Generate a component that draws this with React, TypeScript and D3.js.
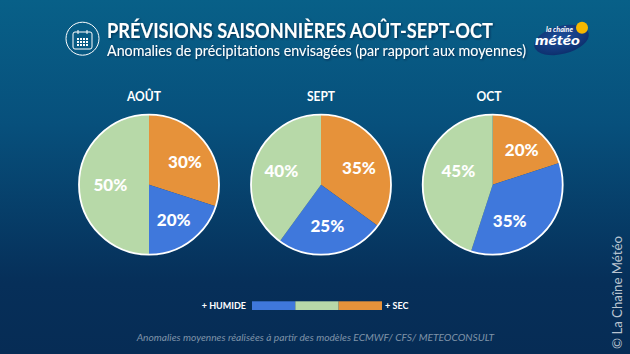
import React from "react";
import * as d3 from "d3";

const months = ["AOÛT", "SEPT", "OCT"];
const secValues = [30, 35, 20];
const humideValues = [20, 25, 35];
const neutreValues = [50, 40, 45];
const legendLabels = ["+ HUMIDE", "+ SEC"];
const colors = { sec: "#E6923A", humide: "#3F78DC", neutre: "#B7D9A8" };
const title = "PRÉVISIONS SAISONNIÈRES AOÛT-SEPT-OCT";
const subtitle = "Anomalies de précipitations envisagées (par rapport aux moyennes)";
const source = "Anomalies moyennes réalisées à partir des modèles ECMWF/ CFS/ METEOCONSULT";

const W = 630, H = 354;
const centerX = d3.scaleOrdinal<string, number>().domain(months).range([149, 321, 492.7]);
const titleX = d3.scaleOrdinal<string, number>().domain(months).range([144, 321, 489]);
const titleW = d3.scaleOrdinal<string, number>().domain(months).range([34, 28, 25]);
const cy = 184.7, R = 70;
const legendX = d3.scaleLinear().domain([0, 3]).range([252, 382]);
const font = "Lato, sans-serif";

// hand-placed label offsets from each pie centre, as in the reference
const labelOffsets: Record<string, [number, number]>[] = [
  { sec: [36, -22.4], humide: [24.7, 35.3], neutre: [-38.7, 0.6] },
  { sec: [38, -16.4], humide: [6.3, 41.3], neutre: [-39.7, -14] },
  { sec: [29, -34.7], humide: [17, 36], neutre: [-34.4, -14] },
];
const gridRows = [38, 41, 44];
const gridCols = [77, 80, 83, 86];

export default function App() {
  React.useEffect(() => {
    document.body.style.margin = "0";
    document.body.style.background = "#05294f";
  }, []);
  const pie = d3.pie<{ k: string; v: number }>().sort(null).value((d) => d.v);
  const arc = d3.arc<d3.PieArcDatum<{ k: string; v: number }>>().innerRadius(0).outerRadius(R);
  const shadow = "url(#ts)";
  return (
    <svg width={W} height={H} viewBox={`0 0 ${W} ${H}`} style={{ display: "block" }} fontFamily={font}>
      <defs>
        <linearGradient id="bg" x1="0" y1="0" x2="0" y2="1">
          <stop offset="0" stopColor="#086088" />
          <stop offset="0.35" stopColor="#07507c" />
          <stop offset="0.8" stopColor="#062f59" />
          <stop offset="1" stopColor="#062c55" />
        </linearGradient>
        <filter id="ts" x="-5%" y="-30%" width="110%" height="160%">
          <feDropShadow dx="1" dy="1" stdDeviation="0.8" floodColor="#00152b" floodOpacity="0.6" />
        </filter>
        <radialGradient id="logo" cx="0.5" cy="0.4" r="0.7">
          <stop offset="0" stopColor="#1f4f9c" />
          <stop offset="1" stopColor="#0a2a66" />
        </radialGradient>
      </defs>
      <rect width={W} height={H} fill="url(#bg)" />

      {/* calendar icon */}
      <g fill="none" stroke="#fff" strokeWidth={1}>
        <circle cx={82.5} cy={38.7} r={16.5} />
        <rect x={73} y={32} width={19} height={17} rx={2} />
        <line x1={78} y1={30} x2={78} y2={34} />
        <line x1={87} y1={30} x2={87} y2={34} />
      </g>
      <g fill="#fff">
        {gridRows.map((y) =>
          gridCols.map((x) => <rect key={`${x}-${y}`} x={x} y={y} width={2} height={2} />)
        )}
      </g>

      <text x={107} y={38.3} fill="#fff" fontSize={20} fontWeight={700} filter={shadow} textLength={386} lengthAdjust="spacingAndGlyphs">{title}</text>
      <text x={107} y={55.5} fill="#fff" fontSize={14.5} filter={shadow} textLength={419} lengthAdjust="spacingAndGlyphs">{subtitle}</text>

      {/* logo */}
      <ellipse cx={561.5} cy={40} rx={28} ry={14} fill="url(#logo)" transform="rotate(-14 561.5 40)" />
      <circle cx={582} cy={27.7} r={6} fill="#F5B800" />
      <text x={546} y={31.5} fill="#fff" fontSize={6.5} fontStyle="italic" fontWeight={700} textLength={27} lengthAdjust="spacingAndGlyphs">la chaîne</text>
      <text x={535} y={45} fill="#fff" fontSize={13} fontStyle="italic" fontWeight={900} textLength={45} lengthAdjust="spacingAndGlyphs">météo</text>

      {months.map((m, i) => {
        const cx = centerX(m);
        const items = [
          { k: "sec", v: secValues[i] },
          { k: "humide", v: humideValues[i] },
          { k: "neutre", v: neutreValues[i] },
        ];
        const arcs = pie(items);
        return (
          <g key={m}>
            <text x={titleX(m)} y={100.7} textAnchor="middle" fill="#fff" fontSize={13.5} fontWeight={700} textLength={titleW(m)} lengthAdjust="spacingAndGlyphs">{m}</text>
            <g transform={`translate(${cx},${cy})`}>
              {arcs.map((a) => (
                <path key={a.data.k} d={arc(a)!} fill={colors[a.data.k as keyof typeof colors]} />
              ))}
              <circle r={R} fill="none" stroke="#fff" strokeWidth={1.8} />
              {arcs.map((a) => {
                const [x, y] = labelOffsets[i][a.data.k];
                return (
                  <text key={a.data.k} x={x} y={y} dy="0.35em" textAnchor="middle" fill="#fff" fontSize={17} fontWeight={900}>
                    {`${a.data.v}%`}
                  </text>
                );
              })}
            </g>
          </g>
        );
      })}

      {/* legend */}
      {(["humide", "neutre", "sec"] as const).map((k, i) => (
        <rect key={k} x={legendX(i)} y={301.3} width={legendX(1) - legendX(0)} height={8.7} fill={colors[k]} />
      ))}
      <text x={201.7} y={309} fill="#fff" fontSize={9} fontWeight={700} textLength={44.3} lengthAdjust="spacing">{legendLabels[0]}</text>
      <text x={385} y={309} fill="#fff" fontSize={9} fontWeight={700} textLength={23.5} lengthAdjust="spacing">{legendLabels[1]}</text>

      <text x={136.7} y={341} fill="#7f93a8" fontSize={10} fontStyle="italic" textLength={357.5} lengthAdjust="spacingAndGlyphs">{source}</text>

      <text transform="translate(622,349) rotate(-90)" fill="#b9c4d0" fontSize={13.5} textLength={113} lengthAdjust="spacingAndGlyphs">© La Chaîne Météo</text>
    </svg>
  );
}
